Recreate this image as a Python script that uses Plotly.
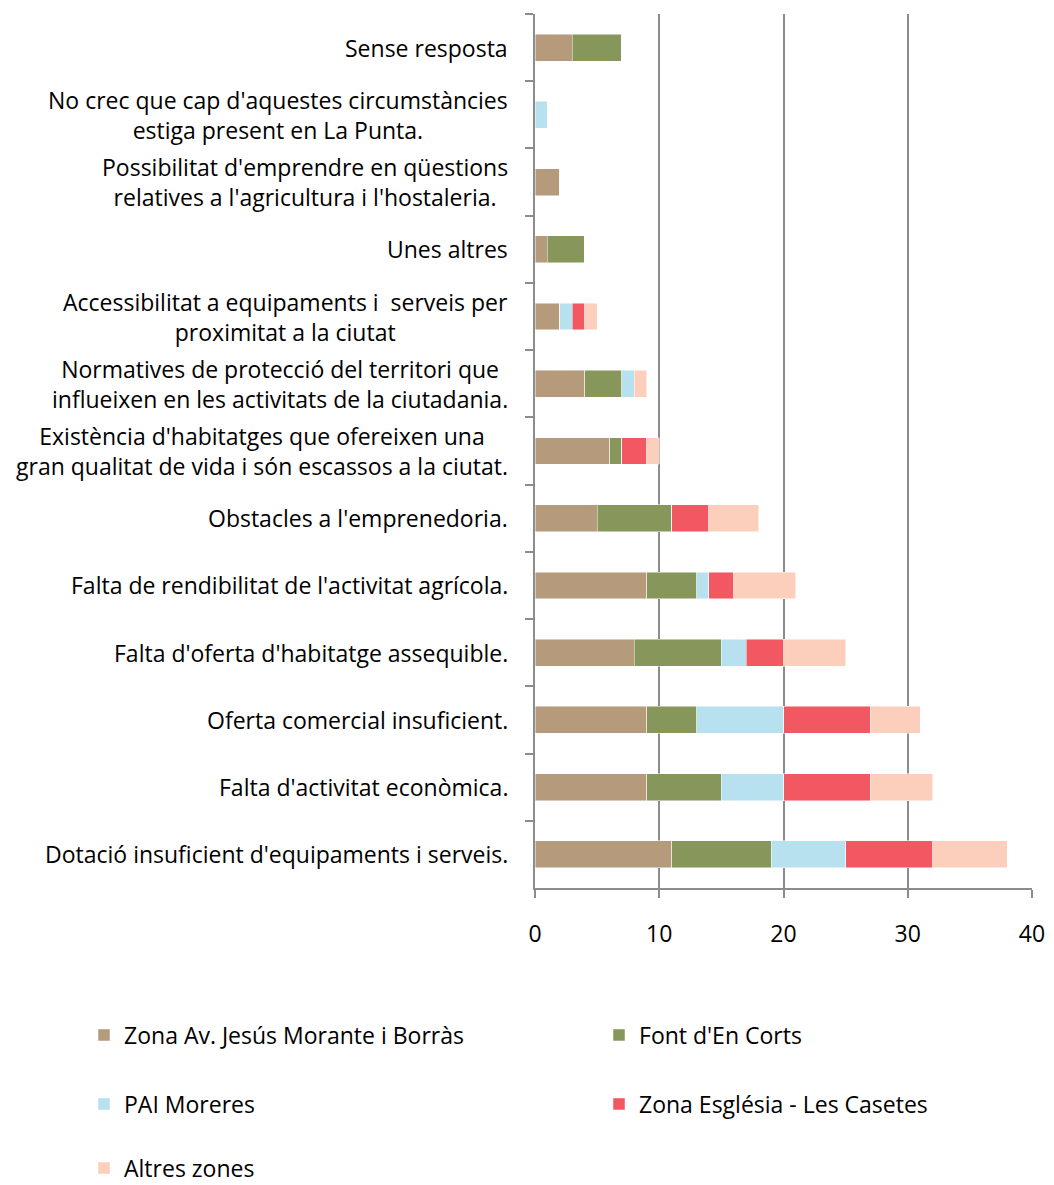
import plotly.graph_objects as go

categories = [
    "Sense resposta",
    "No crec que cap d'aquestes circumstàncies<br>estiga present en La Punta.",
    "Possibilitat d'emprendre en qüestions<br>relatives a l'agricultura i l'hostaleria.",
    "Unes altres",
    "Accessibilitat a equipaments i  serveis per<br>proximitat a la ciutat",
    "Normatives de protecció del territori que<br>influeixen en les activitats de la ciutadania.",
    "Existència d'habitatges que ofereixen una<br>gran qualitat de vida i són escassos a la ciutat.",
    "Obstacles a l'emprenedoria.",
    "Falta de rendibilitat de l'activitat agrícola.",
    "Falta d'oferta d'habitatge assequible.",
    "Oferta comercial insuficient.",
    "Falta d'activitat econòmica.",
    "Dotació insuficient d'equipaments i serveis.",
]

series_names = [
    "Zona Av. Jesús Morante i Borràs",
    "Font d'En Corts",
    "PAI Moreres",
    "Zona Església - Les Casetes",
    "Altres zones",
]

zona_av = [3, 0, 2, 1, 2, 4, 6, 5, 9, 8, 9, 9, 11]
font_corts = [4, 0, 0, 3, 0, 3, 1, 6, 4, 7, 4, 6, 8]
pai_moreres = [0, 1, 0, 0, 1, 1, 0, 0, 1, 2, 7, 5, 6]
zona_esglesia = [0, 0, 0, 0, 1, 0, 2, 3, 2, 3, 7, 7, 7]
altres_zones = [0, 0, 0, 0, 1, 1, 1, 4, 5, 5, 4, 5, 6]

x_ticks = [0, 10, 20, 30, 40]

colors = ["#B59A7B", "#87975C", "#B8E1EF", "#F15862", "#FBCFBB"]
legend_ids = ["legend", "legend2", "legend3", "legend4", "legend5"]
values = [zona_av, font_corts, pai_moreres, zona_esglesia, altres_zones]

FONT = "Open Sans"
FS = 23
fig = go.Figure()
for name, vals, col, lg in zip(series_names, values, colors, legend_ids):
    fig.add_trace(go.Bar(
        y=categories, x=vals, name=name, orientation="h",
        marker=dict(color=col, line=dict(color="rgba(255,255,255,0.6)", width=0.8)),
        legend=lg,
    ))

for c in categories:
    fig.add_annotation(
        x=0, xref="paper", y=c, yref="y", text=c, showarrow=False,
        xanchor="right", yanchor="middle", align="center", xshift=-25,
        font=dict(family=FONT, size=FS, color="#000000"),
    )

def leg(x, y):
    return dict(
        x=x, y=y, orientation="h", xanchor="left", yanchor="middle",
        font=dict(family=FONT, size=FS, color="#000000"),
        bgcolor="rgba(0,0,0,0)",
    )

col1, col2 = -0.9074, 0.1288
row1, row2, row3 = -0.1682, -0.2471, -0.3205

fig.update_layout(
    barmode="stack",
    bargap=0.6,
    width=1046, height=1177,
    margin=dict(l=527, r=22, t=6, b=297, autoexpand=False),
    paper_bgcolor="white", plot_bgcolor="white",
    font=dict(family=FONT, size=FS, color="#000000"),
    showlegend=True,
    legend=leg(col1, row1),
    legend2=leg(col2, row1),
    legend3=leg(col1, row2),
    legend4=leg(col2, row2),
    legend5=leg(col1, row3),
    xaxis=dict(
        range=[0, 40], tickvals=x_ticks, ticktext=[str(t) for t in x_ticks],
        showgrid=True, gridcolor="#8C8C8C", gridwidth=1.5,
        showline=True, linecolor="#8C8C8C", linewidth=1.5,
        ticks="outside", ticklen=8, tickcolor="#8C8C8C", tickwidth=1.5,
        ticklabelstandoff=17,
        tickfont=dict(family=FONT, size=FS, color="#000000"),
        zeroline=False, fixedrange=True,
    ),
    yaxis=dict(
        autorange="reversed", type="category",
        showticklabels=False, tickson="boundaries",
        ticks="outside", ticklen=8, tickcolor="#8C8C8C", tickwidth=1.5,
        showline=True, linecolor="#8C8C8C", linewidth=2,
        showgrid=False, fixedrange=True,
    ),
)

fig.write_html("out.html")
